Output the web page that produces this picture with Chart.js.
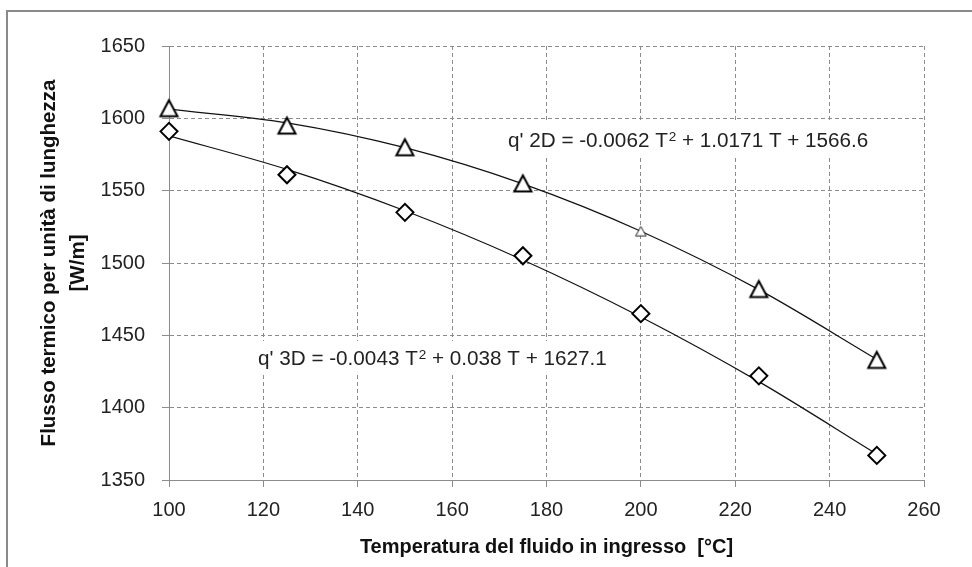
<!DOCTYPE html>
<html>
<head>
<meta charset="utf-8">
<script src="https://cdn.jsdelivr.net/npm/chart.js@4"></script>
<style>
html,body{margin:0;padding:0;background:#fff;}
canvas{display:block;}
</style>
</head>
<body>
<canvas id="c" width="972" height="567"></canvas>
<script>
// ---- data ----
const temps = [100, 125, 150, 175, 200, 225, 250];
const q2D = [1607, 1595, 1580, 1555, 1522, 1482, 1433];
const q3D = [1591, 1561, 1535, 1505, 1465, 1422, 1367];
// trend-line curve
const trend2D = [1606.3, 1596.9, 1579.7, 1554.7, 1522.0, 1481.6, 1433.4];
const trend3D = [1587.9, 1564.7, 1536.1, 1502.1, 1462.7, 1418.0, 1367.9];
const xTicks = [100, 120, 140, 160, 180, 200, 220, 240, 260];
const yTicks = [1350, 1400, 1450, 1500, 1550, 1600, 1650];
const eq2D = ["q' 2D = -0.0062 T", "2", " + 1.0171 T + 1566.6"];
const eq3D = ["q' 3D = -0.0043 T", "2", " + 0.038 T + 1627.1"];
const xTitle = "Temperatura del fluido in ingresso  [°C]";
const yTitle = ["Flusso termico per unità di lunghezza", "[W/m]"];

const FONT = "'Liberation Sans', Arial, sans-serif";

function triImg(w, h, lw, color) {
  const s = Math.ceil(Math.max(w, h) + lw * 4);
  const c = document.createElement('canvas');
  c.width = s; c.height = s;
  const g = c.getContext('2d');
  const cx = s / 2, cy = s / 2;
  g.beginPath();
  g.moveTo(cx, cy - h / 2);
  g.lineTo(cx + w / 2, cy + h / 2);
  g.lineTo(cx - w / 2, cy + h / 2);
  g.closePath();
  g.fillStyle = '#fff';
  g.fill();
  g.lineWidth = lw;
  g.strokeStyle = color;
  g.lineJoin = 'miter';
  g.stroke();
  return c;
}
const bigTri = triImg(17, 16, 2, '#000');
const smallTri = triImg(10.5, 9.5, 1, '#222');
const triStyles = temps.map((t, i) => (t === 200 ? smallTri : bigTri));

const pts = (xs, ys) => xs.map((x, i) => ({x: x, y: ys[i]}));

const decor = {
  id: 'decor',
  beforeDatasetsDraw(chart) {
    const ctx = chart.ctx;
    function drawEq(parts, x0, baseline) {
      ctx.save();
      const main = '20.7px ' + FONT, sup = '13.5px ' + FONT;
      ctx.font = main; const w1 = ctx.measureText(parts[0]).width;
      ctx.font = sup; const w2 = ctx.measureText(parts[1]).width;
      ctx.font = main; const w3 = ctx.measureText(parts[2]).width;
      const tw = w1 + w2 + w3;
      ctx.fillStyle = '#fff';
      ctx.fillRect(x0 - 4, baseline - 24, tw + 8, 33);
      ctx.fillStyle = '#222';
      ctx.textBaseline = 'alphabetic';
      ctx.textAlign = 'left';
      ctx.font = main; ctx.fillText(parts[0], x0, baseline);
      ctx.font = sup; ctx.fillText(parts[1], x0 + w1 + 1, baseline - 6);
      ctx.font = main; ctx.fillText(parts[2], x0 + w1 + w2 + 1, baseline);
      ctx.restore();
    }
    drawEq(eq2D, 508, 147);
    drawEq(eq3D, 258, 365);
  },
  afterDraw(chart) {
    const ctx = chart.ctx;
    ctx.save();
    ctx.strokeStyle = '#8a8a8a';
    ctx.lineWidth = 2;
    ctx.strokeRect(7, 11, 1000, 600);
    ctx.restore();
  }
};

new Chart(document.getElementById('c'), {
  type: 'scatter',
  data: {
    datasets: [
      {
        label: '2D',
        data: pts(temps, q2D),
        showLine: false,
        pointStyle: triStyles,
        pointRadius: 9,
        clip: false,
        order: 1
      },
      {
        label: '3D',
        data: pts(temps, q3D),
        showLine: false,
        pointStyle: 'rectRot',
        pointRadius: 8.5,
        pointBorderWidth: 2,
        pointBorderColor: '#000',
        pointBackgroundColor: '#fff',
        clip: false,
        order: 1
      },
      {
        label: 'trend 2D',
        data: pts(temps, trend2D),
        showLine: true,
        borderColor: '#111',
        borderWidth: 1.2,
        pointRadius: 0,
        cubicInterpolationMode: 'monotone',
        order: 2
      },
      {
        label: 'trend 3D',
        data: pts(temps, trend3D),
        showLine: true,
        borderColor: '#111',
        borderWidth: 1.2,
        pointRadius: 0,
        cubicInterpolationMode: 'monotone',
        order: 2
      }
    ]
  },
  options: {
    responsive: false,
    animation: false,
    events: [],
    layout: {padding: {left: 0, top: 46, right: 48, bottom: 0}},
    plugins: {legend: {display: false}, tooltip: {enabled: false}},
    scales: {
      x: {
        type: 'linear',
        min: xTicks[0],
        max: xTicks[xTicks.length - 1],
        afterBuildTicks(scale) { scale.ticks = xTicks.map(v => ({value: v})); },
        afterFit(scale) { scale.height = 87; },
        grid: {color: '#8c8c8c', lineWidth: 1, tickLength: 7, tickColor: '#8c8c8c'},
        border: {display: true, color: '#8c8c8c', width: 1, dash: [4, 3]},
        ticks: {color: '#222', padding: 11, font: {family: FONT, size: 20}, maxRotation: 0, autoSkip: false,
                callback: v => String(v)},
        title: {display: true, text: xTitle, color: '#111', font: {family: FONT, size: 20, weight: 'bold'}, padding: {top: 0, bottom: 8}}
      },
      y: {
        type: 'linear',
        min: yTicks[0],
        max: yTicks[yTicks.length - 1],
        afterBuildTicks(scale) { scale.ticks = yTicks.map(v => ({value: v})); },
        afterFit(scale) { scale.width = 169; },
        grid: {color: '#8c8c8c', lineWidth: 1, tickLength: 7, tickColor: '#8c8c8c'},
        border: {display: true, color: '#8c8c8c', width: 1, dash: [4, 3]},
        ticks: {color: '#222', padding: 17, font: {family: FONT, size: 20}, autoSkip: false,
                callback: v => String(v)},
        title: {display: true, text: yTitle, color: '#111', font: {family: FONT, size: 20.5, weight: 'bold', lineHeight: 1.4}, padding: {top: 35, bottom: 0}}
      }
    }
  },
  plugins: [decor]
});
</script>
</body>
</html>
